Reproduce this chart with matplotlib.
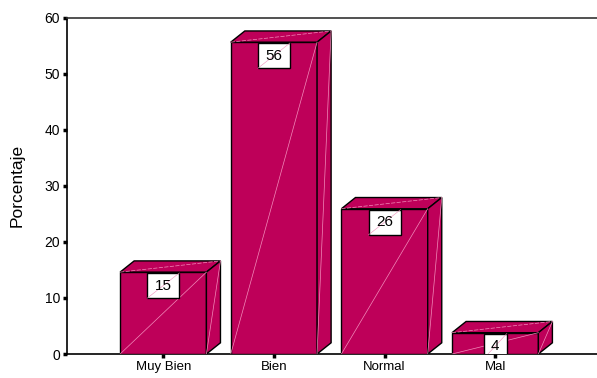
import matplotlib
matplotlib.use("Agg")
import matplotlib.pyplot as plt
from matplotlib.patches import Polygon, Rectangle

plt.rcParams['font.family'] = ['Liberation Sans', 'DejaVu Sans']

categories = ["Muy Bien", "Bien", "Normal", "Mal"]
percentages = [14.6, 55.6, 25.9, 3.8]
y_ticks = [0, 10, 20, 30, 40, 50, 60]

bar_color = "#BE0059"
hl_color = "#F28DBB"

fig = plt.figure(figsize=(5.97, 3.78), dpi=100)
ax = fig.add_axes([67 / 597, 1 - 354 / 378, 1 - 67 / 597, (354 - 17.5) / 378])
ax.set_xlim(-0.87, 3.92)
ax.set_ylim(0, 60)

half_w = 0.39   # half width of the front face, in category units
dx, dy = 0.127, 2.0  # depth offset of the 3D box

for i, v in enumerate(percentages):
    x0, x1 = i - half_w, i + half_w
    front = Polygon([(x0, 0), (x1, 0), (x1, v), (x0, v)], closed=True,
                    facecolor=bar_color, edgecolor="black", lw=1.0, zorder=3)
    top = Polygon([(x0, v), (x1, v), (x1 + dx, v + dy), (x0 + dx, v + dy)], closed=True,
                  facecolor=bar_color, edgecolor="black", lw=1.0, zorder=3)
    side = Polygon([(x1, 0), (x1 + dx, dy), (x1 + dx, v + dy), (x1, v)], closed=True,
                   facecolor=bar_color, edgecolor="black", lw=1.0, zorder=3)
    for p in (front, top, side):
        ax.add_patch(p)
    # faint highlight diagonals on each face
    ax.plot([x0, x1], [0, v], color=hl_color, lw=0.5, zorder=4)
    ax.plot([x1, x1 + dx], [0, v + dy], color=hl_color, lw=0.5, zorder=4)
    ax.plot([x0, x1 + dx], [v, v + dy], color=hl_color, lw=0.5, ls=(0, (6, 2)), zorder=4)

    # value label box
    txt = f"{v:.0f}"
    bw = 0.29 if len(txt) > 1 else 0.21
    bh = 4.5
    ax.add_patch(Rectangle((i - bw / 2, v - bh - 0.15), bw, bh, facecolor="white",
                           edgecolor="black", lw=1.0, zorder=5))
    ax.plot([i - bw / 2, i + bw / 2], [v - bh - 0.15, v - 0.15], color=hl_color,
            lw=0.4, zorder=5.5)
    ax.text(i, v - bh / 2 - 0.15, txt, ha="center", va="center", fontsize=11, zorder=6)

ax.set_xticks(range(len(categories)))
ax.set_xticklabels(categories, fontsize=9.5)
ax.set_yticks(y_ticks)
ax.set_yticklabels([str(t) for t in y_ticks], fontsize=10)
ax.set_ylabel("Porcentaje", fontsize=12.5, labelpad=14)

ax.spines["right"].set_visible(False)
for s in ("left", "bottom", "top"):
    ax.spines[s].set_linewidth(1.2)
ax.spines["top"].set_color("#333333")
ax.tick_params(axis="y", direction="out", length=3, width=2.5, pad=2)
ax.tick_params(axis="x", direction="out", length=3, width=2.5, pad=2)

fig.savefig("out.png", dpi=100)
